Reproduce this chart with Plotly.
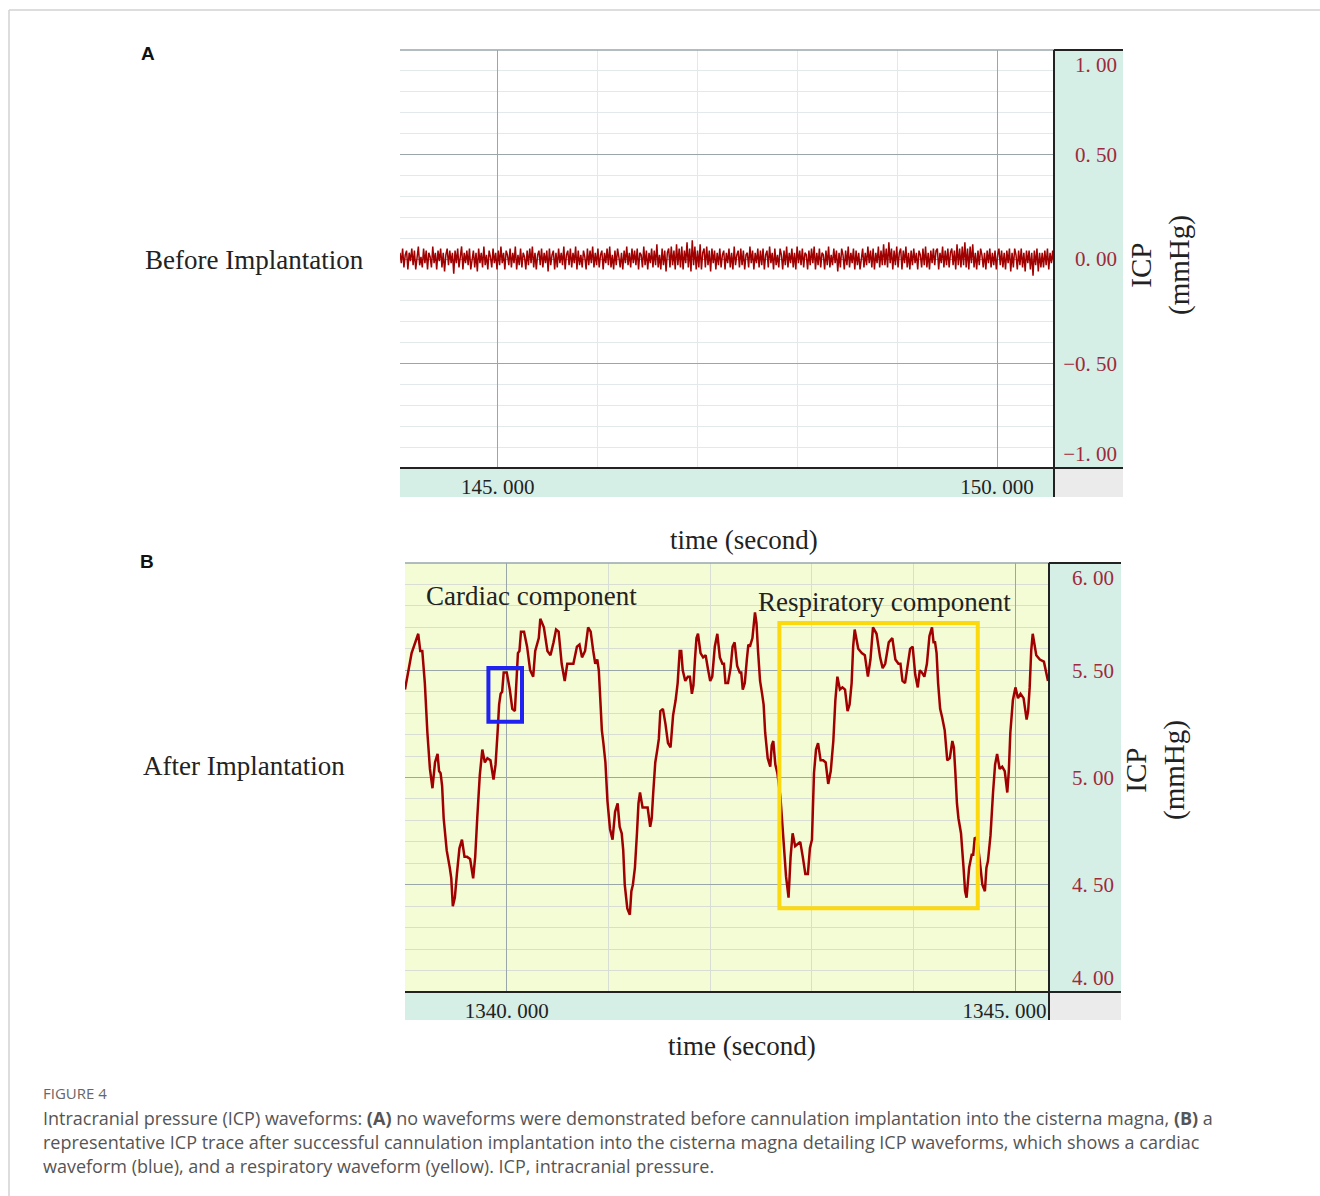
import numpy as np
import plotly.graph_objects as go

# ---------------- data ----------------
# Panel A: ICP before implantation (mmHg), sampled evenly over the visible window
time_a_start, time_a_end = 144.02, 150.57
icp_a = [
    0.03, -0.02, 0.05, -0.04, 0.02, 0.04, -0.05, 0.03, -0.01, 0.05,
    -0.03, 0.04, -0.05, 0.02, 0.06, -0.03, 0.01, -0.04, 0.05, -0.02,
    0.04, -0.05, 0.03, 0.01, -0.04, 0.06, -0.02, 0.03, -0.05, 0.04,
    -0.01, 0.05, -0.04, 0.03, -0.06, 0.02, 0.05, -0.03, 0.04, -0.02,
    0.03, -0.07, 0.04, -0.02, 0.05, -0.04, 0.02, 0.06, -0.05, 0.03,
    -0.02, 0.04, -0.03, 0.05, -0.05, 0.01, 0.04, -0.04, 0.03, -0.06,
    0.05, -0.02, 0.03, -0.04, 0.06, -0.03, 0.02, -0.05, 0.04, 0.01,
    -0.04, 0.05, -0.02, 0.03, -0.05, 0.04, -0.03, 0.06, -0.02, 0.03,
    -0.05, 0.04, 0.02, -0.03, 0.05, -0.04, 0.03, -0.02, 0.06, -0.05,
    0.02, -0.03, 0.05, -0.04, 0.03, 0.01, -0.05, 0.04, -0.03, 0.05,
    -0.02, 0.06, -0.04, 0.03, -0.05, 0.02, 0.04, -0.03, 0.05, -0.04,
    0.03, -0.02, 0.04, -0.06, 0.05, -0.03, 0.02, 0.04, -0.05, 0.03,
    -0.04, 0.05, -0.02, 0.03, -0.03, 0.06, -0.05, 0.02, 0.04, -0.03,
    0.05, -0.04, 0.03, -0.02, 0.06, -0.05, 0.04, -0.03, 0.02, -0.04,
    0.04, 0.01, -0.05, 0.05, -0.03, 0.04, -0.02, 0.06, -0.04, 0.03,
    -0.03, 0.05, -0.04, 0.02, 0.04, -0.05, 0.03, -0.02, 0.05, -0.03,
    0.06, -0.04, 0.02, -0.05, 0.04, -0.03, 0.05, 0.01, -0.04, 0.03,
    -0.05, 0.04, -0.02, 0.06, -0.03, 0.03, -0.04, 0.05, -0.02, 0.04,
    -0.03, 0.05, -0.05, 0.03, 0.02, -0.04, 0.06, -0.03, 0.04, -0.05,
    0.03, -0.02, 0.05, -0.04, 0.04, -0.03, 0.07, -0.04, 0.02, -0.05,
    0.05, -0.03, 0.04, -0.06, 0.03, 0.05, -0.04, 0.06, -0.03, 0.04,
    -0.05, 0.07, -0.03, 0.05, -0.04, 0.06, -0.05, 0.04, -0.02, 0.08,
    -0.04, 0.05, -0.06, 0.09, -0.03, 0.06, -0.05, 0.04, -0.04, 0.07,
    -0.05, 0.03, 0.05, -0.04, 0.06, -0.03, 0.04, -0.06, 0.05, -0.02,
    0.04, -0.05, 0.03, -0.03, 0.05, -0.04, 0.02, 0.04, -0.05, 0.03,
    -0.02, 0.05, -0.04, 0.03, -0.05, 0.06, -0.03, 0.02, 0.04, -0.04,
    0.05, -0.03, 0.04, -0.05, 0.02, 0.03, -0.04, 0.06, -0.02, 0.04,
    -0.05, 0.03, -0.02, 0.05, -0.04, 0.04, -0.03, 0.05, -0.05, 0.02,
    0.04, -0.04, 0.06, -0.02, 0.03, -0.05, 0.05, -0.03, 0.02, -0.04,
    0.05, 0.02, -0.05, 0.04, -0.03, 0.06, -0.04, 0.03, -0.02, 0.05,
    -0.04, 0.03, -0.05, 0.06, -0.02, 0.04, -0.03, 0.05, -0.04, 0.03,
    0.02, -0.05, 0.04, -0.03, 0.05, -0.02, 0.06, -0.05, 0.03, -0.03,
    0.05, -0.04, 0.03, 0.02, -0.05, 0.04, -0.03, 0.06, -0.04, 0.02,
    -0.03, 0.05, -0.02, 0.04, -0.06, 0.03, -0.04, 0.05, 0.02, -0.05,
    0.04, -0.03, 0.06, -0.04, 0.03, -0.02, 0.05, -0.05, 0.04, -0.03,
    0.03, -0.05, 0.02, 0.05, -0.04, 0.03, -0.03, 0.06, -0.02, 0.04,
    -0.04, 0.05, -0.05, 0.03, -0.02, 0.06, -0.04, 0.04, -0.03, 0.07,
    -0.03, 0.05, -0.04, 0.08, -0.02, 0.05, -0.05, 0.04, -0.03, 0.06,
    -0.04, 0.03, 0.05, -0.05, 0.04, -0.02, 0.06, -0.04, 0.03, -0.05,
    0.04, -0.03, 0.05, -0.02, 0.03, -0.05, 0.04, 0.02, -0.04, 0.05,
    -0.03, 0.06, -0.04, 0.03, -0.05, 0.04, -0.02, 0.05, -0.03, 0.04,
    0.05, -0.05, 0.03, -0.02, 0.06, -0.04, 0.04, -0.03, 0.05, -0.04,
    0.03, 0.05, -0.03, 0.04, -0.05, 0.07, -0.03, 0.05, -0.04, 0.06,
    -0.03, 0.08, -0.04, 0.05, -0.05, 0.06, -0.02, 0.07, -0.04, 0.03,
    -0.05, 0.04, -0.03, 0.05, 0.02, -0.04, 0.03, -0.05, 0.04, -0.02,
    0.05, -0.04, 0.03, -0.03, 0.04, -0.05, 0.02, 0.05, -0.03, 0.04,
    -0.04, 0.03, -0.05, 0.04, -0.02, 0.05, -0.06, 0.03, -0.04, 0.05,
    0.02, -0.05, 0.04, -0.03, 0.05, -0.04, 0.03, -0.06, 0.04, -0.02,
    0.04, -0.05, 0.03, -0.08, 0.04, -0.03, 0.05, -0.06, 0.03, -0.04,
    0.03, -0.04, 0.04, -0.03, 0.05, -0.05, 0.03, -0.02, 0.04, -0.03,
]

# Panel B: ICP after implantation (time in s, ICP in mmHg)
time_b = [
    1339.00, 1339.065, 1339.13, 1339.15, 1339.17, 1339.195, 1339.22, 1339.245, 1339.27, 1339.295,
    1339.32, 1339.335, 1339.35, 1339.365, 1339.38, 1339.41, 1339.44, 1339.455, 1339.47, 1339.49,
    1339.51, 1339.535, 1339.56, 1339.585, 1339.61, 1339.64, 1339.67, 1339.69, 1339.71, 1339.735,
    1339.76, 1339.785, 1339.81, 1339.84, 1339.87, 1339.89, 1339.91, 1339.925, 1339.94, 1339.955,
    1339.97, 1340.00, 1340.03, 1340.055, 1340.08, 1340.095, 1340.11, 1340.125, 1340.14, 1340.17,
    1340.20, 1340.23, 1340.26, 1340.28, 1340.30, 1340.315, 1340.33, 1340.365, 1340.40, 1340.43,
    1340.46, 1340.485, 1340.51, 1340.54, 1340.57, 1340.595, 1340.62, 1340.655, 1340.69, 1340.715,
    1340.74, 1340.77, 1340.80, 1340.825, 1340.85, 1340.87, 1340.89, 1340.905, 1340.92, 1340.935,
    1340.95, 1340.97, 1340.99, 1341.015, 1341.04, 1341.065, 1341.09, 1341.11, 1341.13, 1341.145,
    1341.16, 1341.185, 1341.21, 1341.225, 1341.24, 1341.26, 1341.28, 1341.295, 1341.31, 1341.335,
    1341.36, 1341.385, 1341.41, 1341.425, 1341.44, 1341.46, 1341.48, 1341.495, 1341.51, 1341.535,
    1341.56, 1341.585, 1341.61, 1341.635, 1341.66, 1341.68, 1341.70, 1341.715, 1341.73, 1341.755,
    1341.78, 1341.80, 1341.82, 1341.835, 1341.85, 1341.865, 1341.88, 1341.905, 1341.93, 1341.955,
    1341.98, 1342.00, 1342.02, 1342.045, 1342.07, 1342.095, 1342.12, 1342.135, 1342.15, 1342.175,
    1342.20, 1342.22, 1342.24, 1342.265, 1342.29, 1342.305, 1342.32, 1342.34, 1342.36, 1342.375,
    1342.39, 1342.415, 1342.44, 1342.455, 1342.47, 1342.49, 1342.51, 1342.525, 1342.54, 1342.565,
    1342.59, 1342.605, 1342.62, 1342.64, 1342.66, 1342.69, 1342.72, 1342.745, 1342.77, 1342.79,
    1342.81, 1342.835, 1342.86, 1342.885, 1342.91, 1342.935, 1342.96, 1342.98, 1343.00, 1343.01,
    1343.02, 1343.04, 1343.06, 1343.085, 1343.11, 1343.135, 1343.16, 1343.185, 1343.21, 1343.23,
    1343.25, 1343.275, 1343.30, 1343.325, 1343.35, 1343.37, 1343.39, 1343.405, 1343.42, 1343.455,
    1343.49, 1343.52, 1343.55, 1343.575, 1343.60, 1343.635, 1343.67, 1343.695, 1343.72, 1343.755,
    1343.79, 1343.82, 1343.85, 1343.87, 1343.89, 1343.915, 1343.94, 1343.965, 1343.99, 1344.015,
    1344.04, 1344.06, 1344.08, 1344.105, 1344.13, 1344.155, 1344.18, 1344.195, 1344.21, 1344.225,
    1344.24, 1344.26, 1344.28, 1344.305, 1344.33, 1344.355, 1344.38, 1344.395, 1344.41, 1344.425,
    1344.44, 1344.465, 1344.49, 1344.505, 1344.52, 1344.545, 1344.57, 1344.585, 1344.60, 1344.625,
    1344.65, 1344.675, 1344.70, 1344.715, 1344.73, 1344.755, 1344.78, 1344.80, 1344.82, 1344.845,
    1344.87, 1344.895, 1344.92, 1344.935, 1344.95, 1344.975, 1345.00, 1345.025, 1345.05, 1345.08,
    1345.11, 1345.125, 1345.14, 1345.155, 1345.17, 1345.205, 1345.24, 1345.28, 1345.32,
]
icp_b = [
    5.41, 5.58, 5.67, 5.59, 5.59, 5.44, 5.21, 5.04, 4.95, 5.07,
    5.11, 5.03, 5.02, 4.96, 4.81, 4.66, 4.58, 4.53, 4.40, 4.44,
    4.55, 4.67, 4.71, 4.63, 4.63, 4.62, 4.53, 4.63, 4.81, 5.01,
    5.13, 5.07, 5.09, 5.08, 4.99, 5.06, 5.21, 5.34, 5.39, 5.40,
    5.49, 5.49, 5.41, 5.32, 5.31, 5.48, 5.58, 5.59, 5.68, 5.68,
    5.61, 5.50, 5.47, 5.59, 5.63, 5.65, 5.74, 5.70, 5.59, 5.57,
    5.63, 5.69, 5.68, 5.53, 5.45, 5.53, 5.53, 5.53, 5.61, 5.62,
    5.56, 5.59, 5.70, 5.68, 5.59, 5.53, 5.55, 5.50, 5.36, 5.22,
    5.16, 5.07, 4.89, 4.76, 4.71, 4.84, 4.88, 4.77, 4.74, 4.66,
    4.50, 4.39, 4.36, 4.47, 4.50, 4.58, 4.74, 4.88, 4.93, 4.86,
    4.86, 4.86, 4.77, 4.81, 4.93, 5.07, 5.13, 5.18, 5.31, 5.32,
    5.25, 5.16, 5.14, 5.29, 5.36, 5.44, 5.59, 5.59, 5.50, 5.45,
    5.47, 5.47, 5.39, 5.43, 5.55, 5.65, 5.67, 5.58, 5.56, 5.57,
    5.50, 5.45, 5.47, 5.61, 5.67, 5.56, 5.53, 5.53, 5.44, 5.44,
    5.51, 5.61, 5.63, 5.52, 5.49, 5.49, 5.41, 5.44, 5.55, 5.62,
    5.61, 5.65, 5.77, 5.72, 5.59, 5.45, 5.39, 5.34, 5.21, 5.09,
    5.05, 5.15, 5.17, 5.06, 5.02, 4.91, 4.71, 4.54, 4.44, 4.63,
    4.74, 4.68, 4.69, 4.70, 4.63, 4.55, 4.55, 4.67, 4.71, 4.83,
    5.02, 5.13, 5.16, 5.08, 5.08, 5.07, 4.97, 5.03, 5.17, 5.36,
    5.47, 5.41, 5.42, 5.41, 5.31, 5.34, 5.44, 5.61, 5.69, 5.60,
    5.58, 5.57, 5.47, 5.55, 5.70, 5.67, 5.56, 5.51, 5.53, 5.63,
    5.65, 5.55, 5.53, 5.53, 5.45, 5.44, 5.51, 5.60, 5.61, 5.48,
    5.42, 5.50, 5.49, 5.47, 5.53, 5.66, 5.70, 5.63, 5.63, 5.58,
    5.44, 5.32, 5.28, 5.22, 5.08, 5.09, 5.17, 5.14, 5.02, 4.88,
    4.81, 4.74, 4.58, 4.47, 4.44, 4.58, 4.64, 4.64, 4.72, 4.71,
    4.61, 4.50, 4.47, 4.58, 4.61, 4.73, 4.93, 5.06, 5.11, 5.04,
    5.05, 5.03, 4.93, 5.03, 5.21, 5.36, 5.42, 5.37, 5.39, 5.37,
    5.27, 5.31, 5.42, 5.59, 5.67, 5.57, 5.55, 5.54, 5.45,
]

# axis ranges and tick labels
range_xa = [144.02, 150.57]
range_ya = [-1.0, 1.0]
range_xb = [1339.0, 1345.33]
range_yb = [4.0, 6.0]
xticks_a, xlabels_a = [145, 150], ["145. 000", "150. 000"]
xtick_b_first, xlabel_b_first = 1340, "1340. 000"
xtick_b_last, xlabel_b_last = 1345, "1345. 000"
yticks_a_mid, ylabels_a_mid = [0.5, 0.0, -0.5], ["0. 50", "0. 00", "\u22120. 50"]
yticks_b_mid, ylabels_b_mid = [5.5, 5.0, 4.5], ["5. 50", "5. 00", "4. 50"]

# highlighted components (data coords)
cardiac_box = dict(t0=1339.82, t1=1340.15, v0=5.26, v1=5.51)
resp_box = dict(t0=1342.68, t1=1344.63, v0=4.39, v1=5.72)

# ---------------- figure ----------------
W, H = 1320, 1196
def px(x):
    return x / W
def py(y):
    return 1 - y / H

TRACE = "#a00000"
TEAL = "#d5eee6"
CORNER = "#ebebeb"
YELLOW_BG = "#f4fcd5"
MAJOR = "#9aa6a8"
MINOR_A = "#e3e8ea"
MINOR_B = "#d9ded5"
TICK_RED = "#9e2a3c"
SERIF = "Liberation Serif, Times New Roman, serif"

time_a = np.linspace(time_a_start, time_a_end, len(icp_a))

fig = go.Figure()
fig.add_trace(go.Scatter(x=time_a, y=icp_a, mode="lines", xaxis="x", yaxis="y",
                         line=dict(color=TRACE, width=1.5), hoverinfo="skip", showlegend=False))
fig.add_trace(go.Scatter(x=time_b, y=icp_b, mode="lines", xaxis="x2", yaxis="y2",
                         line=dict(color=TRACE, width=2.5), hoverinfo="skip", showlegend=False))
# invisible companions so the overlay label axes get drawn
for xa, ya, xs, ys in [("x", "y3", time_a, icp_a), ("x", "y4", time_a, icp_a),
                       ("x2", "y5", time_b, icp_b), ("x2", "y6", time_b, icp_b),
                       ("x3", "y2", time_b, icp_b)]:
    fig.add_trace(go.Scatter(x=xs, y=ys, mode="lines", xaxis=xa, yaxis=ya, opacity=0,
                             line=dict(width=0.1), hoverinfo="skip", showlegend=False))

tickfont_y = dict(family=SERIF, size=21, color=TICK_RED)
tickfont_x = dict(family=SERIF, size=21, color="#222222")

def yaxis_overlay(base, rng, pos, val, text, where):
    return dict(overlaying=base, anchor="free", position=pos, side="left", range=rng,
                tickmode="array", tickvals=[val], ticktext=[text], ticklabelposition=where,
                ticks="", showgrid=False, zeroline=False, showline=False, tickfont=tickfont_y,
                fixedrange=True)

fig.update_layout(
    width=W, height=H,
    margin=dict(l=0, r=0, t=0, b=0),
    paper_bgcolor="white", plot_bgcolor="white",
    showlegend=False,
    xaxis=dict(domain=[px(400), px(1054)], anchor="y", range=range_xa,
               tickmode="array", tickvals=xticks_a, ticktext=xlabels_a, ticks="",
               showgrid=True, gridcolor=MAJOR, gridwidth=1.3, zeroline=False, showline=False,
               minor=dict(tickmode="linear", tick0=0, dtick=1, showgrid=True, gridcolor=MINOR_A, gridwidth=1),
               tickfont=tickfont_x, ticklabelstandoff=4),
    yaxis=dict(domain=[py(468), py(50)], anchor="free", position=px(1117), side="left",
               range=range_ya, tickmode="array", tickvals=yticks_a_mid, ticktext=ylabels_a_mid,
               ticks="", showgrid=True, gridcolor=MAJOR, gridwidth=1.3, zeroline=False, showline=False,
               minor=dict(tickmode="linear", tick0=0, dtick=0.1, showgrid=True, gridcolor=MINOR_A, gridwidth=1),
               tickfont=tickfont_y),
    yaxis3=yaxis_overlay("y", range_ya, px(1117), 1.0, "1. 00", "outside bottom"),
    yaxis4=yaxis_overlay("y", range_ya, px(1117), -1.0, "\u22121. 00", "outside top"),
    xaxis2=dict(domain=[px(405), px(1049)], anchor="y2", range=range_xb,
                tickmode="array", tickvals=[xtick_b_first], ticktext=[xlabel_b_first], ticks="",
                showgrid=True, gridcolor=MAJOR, gridwidth=1.3, zeroline=False, showline=False,
                minor=dict(tickmode="linear", tick0=0, dtick=1, showgrid=True, gridcolor=MINOR_B, gridwidth=1),
                tickfont=tickfont_x, ticklabelstandoff=4),
    xaxis3=dict(overlaying="x2", anchor="y2", range=range_xb,
                tickmode="array", tickvals=[xtick_b_last], ticktext=[xlabel_b_last], ticks="",
                showgrid=True, gridcolor=MAJOR, gridwidth=1.3, zeroline=False, showline=False,
                tickfont=tickfont_x, ticklabelstandoff=4, ticklabelshift=-11, fixedrange=True),
    yaxis2=dict(domain=[py(992), py(563)], anchor="free", position=px(1114), side="left",
                range=range_yb, tickmode="array", tickvals=yticks_b_mid, ticktext=ylabels_b_mid,
                ticks="", showgrid=True, gridcolor=MAJOR, gridwidth=1.3, zeroline=False, showline=False,
                minor=dict(tickmode="linear", tick0=0, dtick=0.1, showgrid=True, gridcolor=MINOR_B, gridwidth=1),
                tickfont=tickfont_y),
    yaxis5=yaxis_overlay("y2", range_yb, px(1114), 6.0, "6. 00", "outside bottom"),
    yaxis6=yaxis_overlay("y2", range_yb, px(1114), 4.0, "4. 00", "outside top"),
)

shapes = []
def rect(x0, x1, y0, y1, color, layer="below"):
    shapes.append(dict(type="rect", xref="paper", yref="paper", x0=px(x0), x1=px(x1),
                       y0=py(y1), y1=py(y0), fillcolor=color, line=dict(width=0), layer=layer))
def seg(x0, y0, x1, y1, color, width):
    shapes.append(dict(type="line", xref="paper", yref="paper", x0=px(x0), x1=px(x1),
                       y0=py(y0), y1=py(y1), line=dict(color=color, width=width), layer="above"))

# outer frame of the figure page
seg(9, 10, 1320, 10, "#d2d2d2", 1.5)
seg(9, 10, 9, 1196, "#d2d2d2", 1.5)

# panel A frame
rect(1054, 1123, 50, 468, TEAL)
rect(400, 1054, 468, 497, TEAL)
rect(1054, 1123, 468, 497, CORNER)
seg(400, 50, 1054, 50, MAJOR, 1.5)
seg(1054, 50, 1123, 50, "#222222", 2)
seg(1054, 50, 1054, 497, "#222222", 2)
seg(400, 468, 1123, 468, "#222222", 2)

# panel B frame
shapes.append(dict(type="rect", xref="x2 domain", yref="y2 domain", x0=0, x1=1, y0=0, y1=1,
                   fillcolor=YELLOW_BG, line=dict(width=0), layer="below"))
rect(1049, 1121, 563, 992, TEAL)
rect(405, 1049, 992, 1020, TEAL)
rect(1049, 1121, 992, 1020, CORNER)
seg(405, 563, 1049, 563, MAJOR, 1.5)
seg(1049, 563, 1121, 563, "#222222", 2)
seg(1049, 563, 1049, 1020, "#222222", 2)
seg(405, 992, 1121, 992, "#222222", 2)

# component boxes
shapes.append(dict(type="rect", xref="x2", yref="y2", x0=cardiac_box["t0"], x1=cardiac_box["t1"],
                   y0=cardiac_box["v0"], y1=cardiac_box["v1"], line=dict(color="#1f22f0", width=4),
                   fillcolor="rgba(0,0,0,0)", layer="above"))
shapes.append(dict(type="rect", xref="x2", yref="y2", x0=resp_box["t0"], x1=resp_box["t1"],
                   y0=resp_box["v0"], y1=resp_box["v1"], line=dict(color="#fcd80f", width=4),
                   fillcolor="rgba(0,0,0,0)", layer="above"))
fig.update_layout(shapes=shapes)

ann = []
def text(x, y, s, size, family=SERIF, color="#222222", xanchor="center", angle=0, bold=False):
    ann.append(dict(xref="paper", yref="paper", x=px(x), y=py(y), text=(f"<b>{s}</b>" if bold else s),
                    showarrow=False, xanchor=xanchor, yanchor="middle", textangle=angle,
                    font=dict(family=family, size=size, color=color)))

SANS = "Liberation Sans, Arial, sans-serif"
text(148, 54, "A", 19, family=SANS, color="#111111", bold=True)
text(147, 561, "B", 19, family=SANS, color="#111111", bold=True)
text(254, 260, "Before Implantation", 27)
text(244, 766, "After Implantation", 27)
text(744, 540, "time (second)", 27)
text(742, 1046, "time (second)", 27)
text(1160, 265, "ICP<br>(mmHg)", 29, angle=-90)
text(1155, 770, "ICP<br>(mmHg)", 29, angle=-90)
text(424, 596, "Cardiac component", 27, xanchor="left")
text(756, 602, "Respiratory component", 27, xanchor="left")

CAP = "Open Sans, Noto Sans, sans-serif"
text(41, 1093, "FIGURE 4", 15, family=CAP, color="#666666", xanchor="left")
cap_lines = [
    "Intracranial pressure (ICP) waveforms: <b>(A)</b> no waveforms were demonstrated before cannulation implantation into the cisterna magna, <b>(B)</b> a",
    "representative ICP trace after successful cannulation implantation into the cisterna magna detailing ICP waveforms, which shows a cardiac",
    "waveform (blue), and a respiratory waveform (yellow). ICP, intracranial pressure.",
]
for i, line in enumerate(cap_lines):
    text(41, 1118 + 24 * i, line, 18, family=CAP, color="#555555", xanchor="left")

fig.update_layout(annotations=ann)
fig.write_html("out.html", config={"displayModeBar": False},
               post_script="document.body.style.margin='0px';document.body.style.overflow='hidden';")
